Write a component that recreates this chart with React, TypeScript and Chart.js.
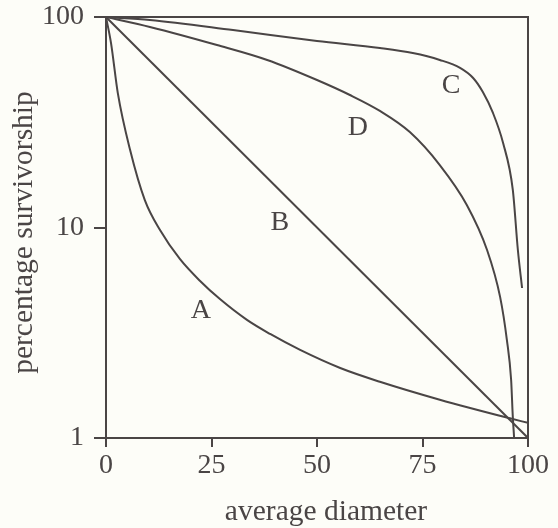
import React, { useEffect, useRef } from "react";
import { Chart, registerables } from "chart.js";

Chart.register(...registerables);

// Curve A
const aX = [0, 1.2, 2.8, 5.7, 9.2, 12.8, 17.5, 22.3, 27.0, 33.4, 38.9, 46.0, 55.5, 64.9, 79.1, 95.7, 100];
const aY = [100, 75, 43.5, 23.4, 13.5, 9.73, 7.09, 5.57, 4.57, 3.64, 3.12, 2.62, 2.15, 1.85, 1.52, 1.24, 1.18];
// Curve B
const bX = [0, 100];
const bY = [100, 1];
// Curve C
const cX = [0, 10.4, 30.1, 50, 64.9, 72.7, 79.1, 83.9, 87.0, 89.3, 91.7, 94.1, 96.4, 97.6, 98.6];
const cY = [100, 96.8, 86.7, 76.9, 71.2, 67.4, 62.5, 57.3, 51.3, 44.0, 35.0, 25.2, 15.1, 7.82, 5.16];
// Curve D
const dX = [0, 10.4, 26.3, 38.2, 50.0, 57.8, 64.9, 72.0, 79.1, 85.5, 90.3, 93.4, 95.0, 96.0, 96.4, 96.7];
const dY = [100, 89.7, 73.6, 62.5, 50.2, 42.6, 35.8, 28.4, 19.8, 12.8, 7.82, 4.67, 2.92, 1.89, 1.26, 1.01];

const curveLabels = ["A", "B", "C", "D"];
const labelX = [22.5, 41.2, 81.8, 59.7];
const labelY = [4.01, 10.5, 47.4, 29.7];

const xTicks = [0, 25, 50, 75, 100];
const yTicks = [1, 10, 100];
const xTitle = "average diameter";
const yTitle = "percentage survivorship";

const INK = "#4a4545";
const FONT = "'Liberation Serif', 'Times New Roman', serif";

function pts(xs: number[], ys: number[]) {
  return xs.map((x, i) => ({ x, y: ys[i] }));
}

export default function App() {
  const ref = useRef<HTMLCanvasElement | null>(null);
  useEffect(() => {
    if (!ref.current) return;
    const frame = {
      id: "frame",
      beforeDraw(chart: any) {
        const ctx = chart.ctx;
        ctx.save();
        ctx.fillStyle = "#fdfdf8";
        ctx.fillRect(0, 0, chart.width, chart.height);
        ctx.restore();
      },
      afterDatasetsDraw(chart: any) {
        const { ctx, chartArea } = chart;
        ctx.save();
        ctx.strokeStyle = INK;
        ctx.lineWidth = 2;
        ctx.strokeRect(chartArea.left, chartArea.top, chartArea.right - chartArea.left, chartArea.bottom - chartArea.top);
        ctx.fillStyle = INK;
        ctx.font = `28px ${FONT}`;
        ctx.textAlign = "center";
        ctx.textBaseline = "middle";
        const xs = chart.scales.x;
        const ys = chart.scales.y;
        curveLabels.forEach((t, i) => {
          ctx.fillText(t, xs.getPixelForValue(labelX[i]), ys.getPixelForValue(labelY[i]));
        });
        ctx.font = `29.5px ${FONT}`;
        ctx.textBaseline = "alphabetic";
        ctx.fillText(xTitle, (chartArea.left + chartArea.right) / 2 + 9, chart.height - 8);
        ctx.save();
        ctx.translate(24, (chartArea.top + chartArea.bottom) / 2 + 5);
        ctx.rotate(-Math.PI / 2);
        ctx.textBaseline = "middle";
        ctx.fillText(yTitle, 0, 0);
        ctx.restore();
        ctx.restore();
      },
    };
    const ds = (d: any) => ({
      data: d,
      borderColor: INK,
      borderWidth: 2,
      pointRadius: 0,
      fill: false,
      cubicInterpolationMode: "monotone" as const,
    });
    const chart = new Chart(ref.current, {
      type: "line",
      data: {
        datasets: [ds(pts(aX, aY)), ds(pts(bX, bY)), ds(pts(cX, cY)), ds(pts(dX, dY))],
      },
      plugins: [frame],
      options: {
        animation: false,
        responsive: false,
        events: [],
        layout: { padding: { top: 17, right: 30, left: 0, bottom: 0 } },
        plugins: { legend: { display: false }, tooltip: { enabled: false } },
        scales: {
          x: {
            type: "linear",
            min: 0,
            max: 100,
            afterBuildTicks: (s: any) => {
              s.ticks = xTicks.map((v) => ({ value: v }));
            },
            afterFit: (s: any) => {
              s.height = 90;
              s.paddingLeft = 0;
              s.paddingRight = 0;
            },
            grid: { display: true, drawOnChartArea: false, drawTicks: true, tickLength: 9, color: INK, lineWidth: 2 },
            border: { display: true, color: INK, width: 2 },
            ticks: { color: INK, font: { family: FONT, size: 28 }, padding: 2, maxRotation: 0 },
          },
          y: {
            type: "logarithmic",
            min: 1,
            max: 100,
            afterBuildTicks: (s: any) => {
              s.ticks = yTicks.map((v) => ({ value: v }));
            },
            afterFit: (s: any) => {
              s.width = 106;
              s.paddingTop = 0;
              s.paddingBottom = 0;
            },
            grid: { display: true, drawOnChartArea: false, drawTicks: true, tickLength: 12, color: INK, lineWidth: 2 },
            border: { display: true, color: INK, width: 2 },
            ticks: { color: INK, font: { family: FONT, size: 28 }, padding: 10, callback: (v: any) => String(v) },
          },
        },
      },
    });
    return () => chart.destroy();
  }, []);
  return (
    <div style={{ position: "fixed", left: 0, top: 0, width: 558, height: 528, background: "#fdfdf8" }}>
      <canvas ref={ref} width={558} height={528} style={{ display: "block", width: 558, height: 528 }} />
    </div>
  );
}
